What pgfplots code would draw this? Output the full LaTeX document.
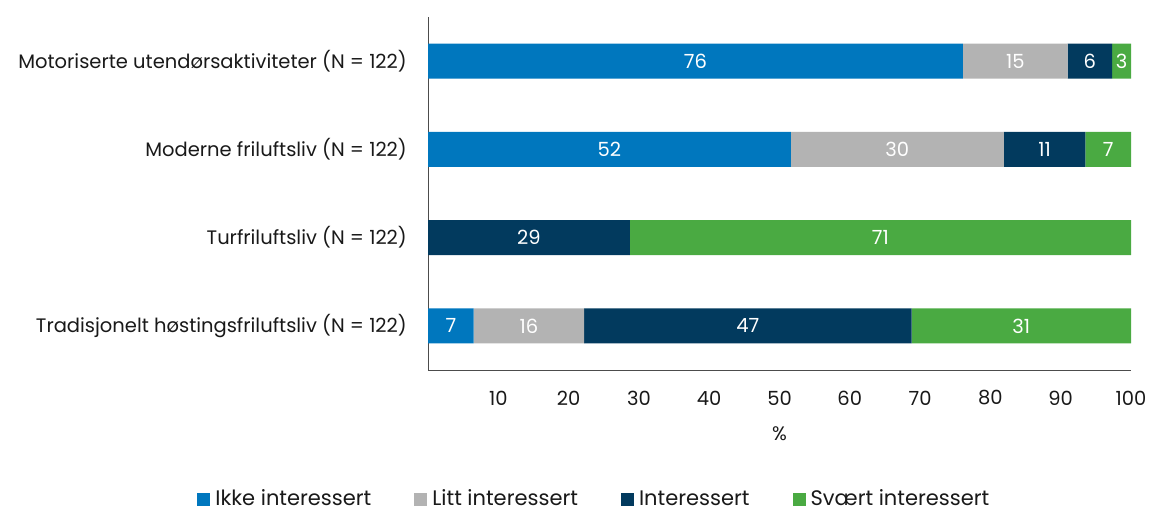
\documentclass[border=0pt]{standalone}
\usepackage{pgfplots}
\pgfplotsset{compat=1.18}
\usepackage{fontspec}
\setmainfont{Poppins}
\definecolor{cblue}{HTML}{0077BE}
\definecolor{cgrey}{HTML}{B3B3B3}
\definecolor{cnavy}{HTML}{023A5E}
\definecolor{cgreen}{HTML}{4AAA42}
\newcommand\lbl{\fontsize{19.5bp}{22bp}\selectfont}
\newcommand\tck{\fontsize{19.5bp}{22bp}\selectfont}
\newcommand\lgd{\fontsize{21bp}{24bp}\selectfont}
\begin{document}
\begin{tikzpicture}
\path[use as bounding box] (0bp,0bp) rectangle (1152bp,512bp);
\begin{axis}[
  at={(428bp,142bp)}, anchor=south west,
  scale only axis, width=703bp, height=353bp,
  xbar stacked, bar width=35bp,
  xmin=0, xmax=100, ymin=-0.5, ymax=3.5,
  axis x line*=bottom, axis y line*=left,
  axis line style={draw=black!70, line width=1bp},
  xtick={10,20,...,100}, ytick={0,1,2,3},
  yticklabels={Tradisjonelt høstingsfriluftsliv (N = 122),Turfriluftsliv (N = 122),Moderne friluftsliv (N = 122),Motoriserte utendørsaktiviteter (N = 122)},
  major tick length=0,
  /pgf/number format/assume math mode=true,
  tick label style={text=black!90},
  xticklabel style={font=\tck, anchor=center, yshift=-28bp},
  yticklabel style={font=\lbl, anchor=east, inner sep=0pt, xshift=-21bp},
  xlabel={\%},
  xlabel style={at={(axis description cs:0.5,0)}, anchor=center, yshift=-64bp, font=\tck, text=black!90},
  legend style={at={(axis description cs:0.236,-0.366)}, anchor=center, draw=none, font=\lgd, legend columns=4,
     text=black!90, inner sep=0pt, nodes={inner sep=1bp, text height=15bp, text depth=2bp},
     /tikz/every odd column/.append style={column sep=4bp},
     /tikz/every even column/.append style={column sep=42bp}},
  legend image code/.code={\fill[#1] (0bp,-6.5bp) rectangle (13bp,6.5bp);},
]
\addplot[fill=cblue, draw=none] coordinates {(6.5,0) (0,1) (51.6,2) (76.1,3)};
\addplot[fill=cgrey, draw=none] coordinates {(15.7,0) (0,1) (30.3,2) (14.9,3)};
\addplot[fill=cnavy, draw=none] coordinates {(46.6,0) (28.7,1) (11.6,2) (6.3,3)};
\addplot[fill=cgreen, draw=none] coordinates {(31.2,0) (71.3,1) (6.5,2) (2.7,3)};
\legend{Ikke interessert, Litt interessert, Interessert, Svært interessert}
\end{axis}
\begin{axis}[
  at={(428bp,142bp)}, anchor=south west,
  scale only axis, width=703bp, height=353bp,
  xmin=0, xmax=100, ymin=-0.5, ymax=3.5,
  hide axis,
]
\addplot[draw=none, mark=none, nodes near coords, point meta=explicit symbolic,
  every node near coord/.style={anchor=center, text=white, font=\tck}]
  coordinates {
  (3.25,0) [7] (14.35,0) [16] (45.5,0) [47] (84.4,0) [31]
  (14.35,1) [29] (64.35,1) [71]
  (25.8,2) [52] (66.75,2) [30] (87.7,2) [11] (96.75,2) [7]
  (38.05,3) [76] (83.55,3) [15] (94.15,3) [6] (98.65,3) [3]
  };
\end{axis}
\end{tikzpicture}
\end{document}
